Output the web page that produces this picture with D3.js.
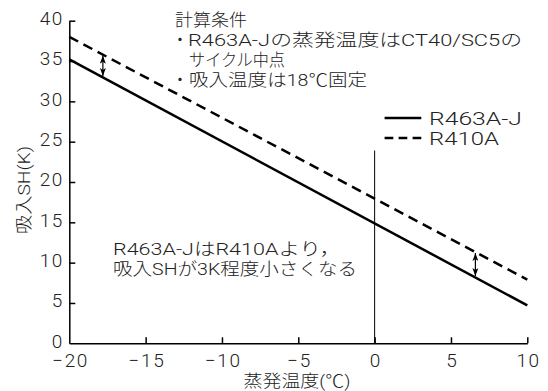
<!DOCTYPE html>
<html>
<head>
<meta charset="utf-8">
<script src="https://cdn.jsdelivr.net/npm/d3@7"></script>
<style>
  html, body { margin: 0; padding: 0; background: #fff; }
  svg { display: block; }
</style>
</head>
<body>
<svg id="chart" width="548" height="391"></svg>
<script>
// ---- data ----
const evapTemp = [-20, 10];               // 蒸発温度 (℃)
const shR463AJ = [35.2, 4.7];             // 吸入SH (K) R463A-J
const shR410A  = [38.0, 7.9];             // 吸入SH (K) R410A
const xTicks = [-20, -15, -10, -5, 0, 5, 10];
const yTicks = [0, 5, 10, 15, 20, 25, 30, 35, 40];
const seriesNames = ["R463A-J", "R410A"];
const arrowTemps = [-17.8, 6.6];
const refLineTemp = 0;
const refLineTop = 23.9;
const conditionLines = ["計算条件", "R463A-Jの蒸発温度はCT40/SC5の", "サイクル中点", "吸入温度は18℃固定"];
const noteLines = ["R463A-JはR410Aより，", "吸入SHが3K程度小さくなる"];
const xTitle = "蒸発温度(℃)";
const yTitle = "吸入SH(K)";

// ---- layout ----
const FONT = "Roboto, 'Noto Sans CJK JP', sans-serif";
const WEIGHT = 300;
const svg = d3.select("#chart");
const x = d3.scaleLinear().domain([-20, 10]).range([69.3, 527.3]);
const y = d3.scaleLinear().domain([0, 40]).range([343.3, 20.7]);

const defs = svg.append("defs");
defs.append("marker").attr("id", "ah")
  .attr("viewBox", "0 0 8 6").attr("refX", 8).attr("refY", 3)
  .attr("markerWidth", 8).attr("markerHeight", 6)
  .attr("markerUnits", "userSpaceOnUse")
  .attr("orient", "auto-start-reverse")
  .append("path").attr("d", "M0,0 L8,3 L0,6 L2,3 z").attr("fill", "#000");

// axes
const xAxis = d3.axisBottom(x).tickValues(xTicks).tickSizeInner(-6).tickSizeOuter(0).tickPadding(10)
  .tickFormat(d => d3.format("d")(d).replace("-", "\u2212"));
const yAxis = d3.axisLeft(y).tickValues(yTicks).tickSizeInner(-6).tickSizeOuter(0).tickPadding(7)
  .tickFormat(d3.format("d"));

const gx = svg.append("g").attr("transform", `translate(0,${y(0)})`).call(xAxis);
const gy = svg.append("g").attr("transform", `translate(${x(-20)},0)`).call(yAxis);
[gx, gy].forEach(g => {
  g.select(".domain").attr("stroke", "#000").attr("stroke-width", 1.5);
  g.selectAll(".tick line").attr("stroke", "#000").attr("stroke-width", 1.5);
  g.selectAll(".tick text").attr("fill", "#222").attr("font-family", FONT)
    .attr("font-weight", WEIGHT).attr("font-size", 19).attr("letter-spacing", 1.6);
});
gx.selectAll(".tick").filter(d => d === -20).select("line").remove();
gy.selectAll(".tick").filter(d => d === 0).select("line").remove();
gy.selectAll(".tick text").attr("dy", "0.2em").attr("dx", 1.6);
gx.selectAll(".tick text").attr("dx", 0.8);

// reference vertical line at 0℃
svg.append("line")
  .attr("x1", x(refLineTemp)).attr("x2", x(refLineTemp))
  .attr("y1", y(0)).attr("y2", y(refLineTop))
  .attr("stroke", "#000").attr("stroke-width", 1);

// series lines
const pts = arr => evapTemp.map((t, i) => [t, arr[i]]);
const line = d3.line().x(d => x(d[0])).y(d => y(d[1]));
svg.append("path").datum(pts(shR463AJ)).attr("d", line)
  .attr("fill", "none").attr("stroke", "#000").attr("stroke-width", 2.5);
svg.append("path").datum(pts(shR410A)).attr("d", line)
  .attr("fill", "none").attr("stroke", "#000").attr("stroke-width", 2.5)
  .attr("stroke-dasharray", "10,6");

// double arrows between the lines
const sA = d3.scaleLinear().domain(evapTemp).range(shR463AJ);
const sB = d3.scaleLinear().domain(evapTemp).range(shR410A);
arrowTemps.forEach(t => {
  svg.append("line")
    .attr("x1", x(t)).attr("x2", x(t))
    .attr("y1", y(sB(t)) + 1).attr("y2", y(sA(t)) - 1.5)
    .attr("stroke", "#000").attr("stroke-width", 1.2)
    .attr("marker-start", "url(#ah)").attr("marker-end", "url(#ah)");
});

// legend
const lg = svg.append("g");
[["none", 0], ["8.7,5.3", 1]].forEach(([dash, i]) => {
  lg.append("line").attr("x1", 384.6).attr("x2", 421.3)
    .attr("y1", 118 + i * 20).attr("y2", 118 + i * 20)
    .attr("stroke", "#000").attr("stroke-width", 2.5)
    .attr("stroke-dasharray", dash === "none" ? null : dash);
  lg.append("text").attr("x", 429).attr("y", 124.5 + i * 20)
    .attr("font-family", FONT).attr("font-weight", WEIGHT).attr("font-size", 17.5).attr("fill", "#222")
    .attr("textLength", i === 0 ? 93 : 70).attr("lengthAdjust", "spacingAndGlyphs")
    .text(seriesNames[i]);
});

// conditions text
const cond = svg.append("g").attr("font-family", FONT).attr("font-weight", WEIGHT)
  .attr("font-size", 17).attr("fill", "#222");
const condPos = [[175, 26, 72], [188, 46, 334], [189, 66, 96], [189, 86, 178]];
conditionLines.forEach((s, i) => {
  cond.append("text").attr("x", condPos[i][0]).attr("y", condPos[i][1])
    .attr("textLength", condPos[i][2]).attr("lengthAdjust", "spacingAndGlyphs").text(s);
});
[46, 86].forEach(yy => cond.append("text").attr("x", 180).attr("y", yy)
  .attr("text-anchor", "middle").text("・"));

// note text
const note = svg.append("g").attr("font-family", FONT).attr("font-weight", WEIGHT)
  .attr("font-size", 17).attr("fill", "#222");
const notePos = [[113, 255, 228], [113, 275, 244]];
noteLines.forEach((s, i) => {
  note.append("text").attr("x", notePos[i][0]).attr("y", notePos[i][1])
    .attr("textLength", notePos[i][2]).attr("lengthAdjust", "spacingAndGlyphs").text(s);
});

// axis titles
svg.append("text").attr("x", 297).attr("y", 387).attr("text-anchor", "middle")
  .attr("font-family", FONT).attr("font-weight", WEIGHT).attr("font-size", 17).attr("fill", "#222")
  .attr("textLength", 107).attr("lengthAdjust", "spacingAndGlyphs").text(xTitle);
svg.append("text").attr("transform", "translate(30,190) rotate(-90)").attr("text-anchor", "middle")
  .attr("font-family", FONT).attr("font-weight", WEIGHT).attr("font-size", 17).attr("fill", "#222")
  .attr("textLength", 88).attr("lengthAdjust", "spacingAndGlyphs").text(yTitle);
</script>
</body>
</html>
